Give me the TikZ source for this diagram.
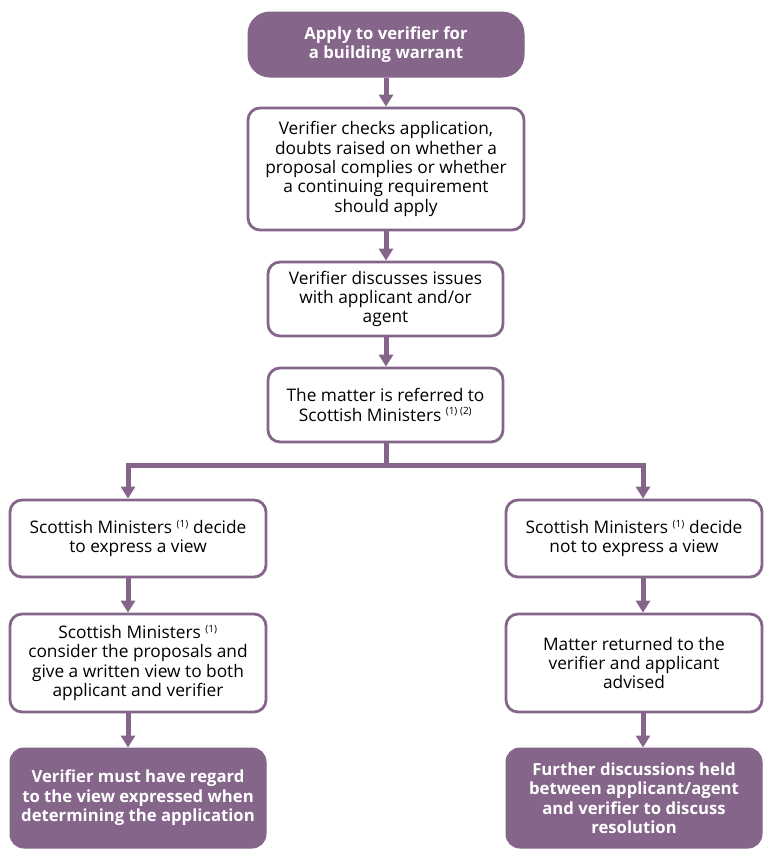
\documentclass[tikz,border=0pt]{standalone}
\usepackage{fontspec}
\setmainfont{Open Sans}
\usetikzlibrary{arrows.meta,positioning}
\definecolor{purp}{HTML}{85658A}
\tikzset{
  box/.style={draw=purp, line width=2.8pt, rounded corners=12pt, fill=white, align=center, font=\fontsize{17.3}{19.4}\selectfont, inner sep=0pt},
  fbox/.style={fill=purp, draw=purp, line width=1pt, rounded corners=14pt, align=center, text=white, font=\fontsize{16.7}{19.5}\selectfont\bfseries, inner sep=0pt},
  arr/.style={draw=purp, line width=5pt, -{Triangle[width=14pt,length=12pt]}},
  ln/.style={draw=purp, line width=5pt}
}
\newcommand{\sups}[1]{\textsuperscript{\fontsize{10}{10}\selectfont #1}}
\begin{document}
\begin{tikzpicture}[x=1pt,y=-1pt]
\useasboundingbox (0,0) rectangle (770,857);
\node[fbox, minimum width=276pt, minimum height=65pt, rounded corners=22pt] (a) at (386,44.5) {Apply to verifier for\\a building warrant};
\node[box, minimum width=276pt, minimum height=122pt] (b) at (386,169) {Verifier checks application,\\doubts raised on whether a\\proposal complies or whether\\a continuing requirement\\should apply};
\node[box, minimum width=235pt, minimum height=74pt] (c) at (385.5,299) {Verifier discusses issues\\with applicant and/or\\agent};
\node[box, minimum width=235pt, minimum height=74pt] (d) at (385.5,405) {The matter is referred to\\Scottish Ministers \sups{(1) (2)}};
\node[box, minimum width=256pt, minimum height=77pt] (e) at (138,538.5) {Scottish Ministers \sups{(1)} decide\\to express a view};
\node[box, minimum width=256pt, minimum height=77pt] (f) at (634,538.5) {Scottish Ministers \sups{(1)} decide\\not to express a view};
\node[box, minimum width=256pt, minimum height=98pt] (g) at (138,663) {Scottish Ministers \sups{(1)}\\consider the proposals and\\give a written view to both\\applicant and verifier};
\node[box, minimum width=256pt, minimum height=98pt] (h) at (634,663) {Matter returned to the\\verifier and applicant\\advised};
\node[fbox, minimum width=256pt, minimum height=100pt] (i) at (138,798) {Verifier must have regard\\to the view expressed when\\determining the application};
\node[fbox, minimum width=256pt, minimum height=100pt] (j) at (634,798) {Further discussions held\\between applicant/agent\\and verifier to discuss\\resolution};
\coordinate (jn) at (386,465);
\draw[arr] (a.south -| 386,0) -- (b.north -| 386,0);
\draw[arr] (b.south -| 386,0) -- (c.north -| 386,0);
\draw[arr] (c.south -| 386,0) -- (d.north -| 386,0);
\draw[ln] (d.south -| 386,0) -- (jn);
\draw[arr] (jn) -| (e.north -| 128,0);
\draw[arr] (jn) -| (f.north -| 643,0);
\draw[arr] (e.south -| 128,0) -- (g.north -| 128,0);
\draw[arr] (f.south -| 643,0) -- (h.north -| 643,0);
\draw[arr] (g.south -| 128,0) -- (i.north -| 128,0);
\draw[arr] (h.south -| 643,0) -- (j.north -| 643,0);
\end{tikzpicture}
\end{document}
